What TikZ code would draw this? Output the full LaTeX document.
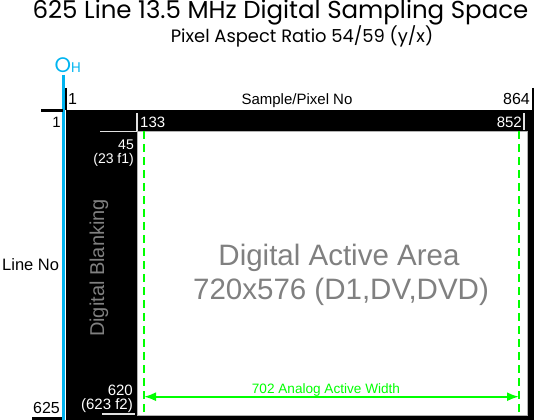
\documentclass[tikz,border=0pt]{standalone}
\usepackage{fontspec}
\setmainfont{Liberation Sans}
\newfontfamily\titlefont{Poppins}
\usetikzlibrary{arrows.meta,positioning}
\definecolor{ohcyan}{RGB}{0,180,240}
\definecolor{anagreen}{RGB}{0,255,0}
\definecolor{areagray}{RGB}{128,128,128}
\definecolor{tickgray}{RGB}{225,225,225}

\begin{document}
\begin{tikzpicture}[x=1pt,y=-1pt,
  lbl/.style={inner sep=0pt, font=\fontsize{15}{15}\selectfont},
  wlbl/.style={lbl, text=white},
  blk/.style={line width=2pt},
  wtick/.style={tickgray, line width=1.6pt},
  gdash/.style={anagreen, line width=2pt, dash pattern=on 8pt off 5pt}]
\useasboundingbox (0,0) rectangle (560,420);
% frame
\coordinate (ftl) at (66,110);
\coordinate (fbr) at (534,420);
\coordinate (atl) at (137,131);
\coordinate (abr) at (527,415);
\fill[black] (ftl) rectangle (fbr);
\fill[white] (atl) rectangle (abr);
\draw[gray!60, line width=0.6pt] (atl) rectangle (abr);
% titles
\node[inner sep=0pt, anchor=base] (title) at (280.5,18.5) {\titlefont\fontsize{24.5}{24.5}\selectfont 625 Line 13.5 MHz Digital Sampling Space};
\node[inner sep=0pt, anchor=base] (subtitle) at (302,43) {\titlefont\fontsize{17.9}{17.9}\selectfont Pixel Aspect Ratio 54/59 (y/x)};
% origin line
\coordinate (ohtop) at (63.5,75);
\coordinate (ohbot) at (63.5,420);
\draw[ohcyan, line width=3pt] (ohtop) -- (ohbot);
\node[inner sep=0pt, anchor=base west, text=ohcyan] (oh) at (54.5,73) {\titlefont\fontsize{21}{21}\selectfont O\fontsize{14}{14}\selectfont H};
% black ticks
\coordinate (t1a) at (66,88);
\coordinate (t1b) at (66,110);
\coordinate (l1a) at (41,110.5);
\coordinate (l1b) at (63,110.5);
\coordinate (t864a) at (532.5,88);
\coordinate (t864b) at (532.5,110);
\coordinate (l625a) at (32,418.5);
\coordinate (l625b) at (62,418.5);
\draw[blk] (t1a) -- (t1b);
\draw[blk] (l1a) -- (l1b);
\draw[blk] (t864a) -- (t864b);
\draw[line width=3pt] (l625a) -- (l625b);
\node[lbl, anchor=base west, font=\fontsize{16}{16}\selectfont] (n1) at (68,105) {1};
\node[lbl, anchor=base east] (m1) at (61,128) {1};
\node[lbl, anchor=base] (sample) at (297,104) {Sample/Pixel No};
\node[lbl, anchor=base east, font=\fontsize{16}{16}\selectfont] (n864) at (530,104) {864};
\node[lbl, anchor=base east, font=\fontsize{16}{16}\selectfont] (m625) at (60,413) {625};
\node[lbl, anchor=base west, font=\fontsize{16.5}{16.5}\selectfont] (lineno) at (2,270) {Line No};
% white ticks
\coordinate (t133a) at (137,113);
\coordinate (t133b) at (137,131);
\coordinate (t852a) at (524,113);
\coordinate (t852b) at (524,130);
\coordinate (l45a) at (100,131.5);
\coordinate (l45b) at (137,131.5);
\coordinate (l620a) at (102,414);
\coordinate (l620b) at (135,414);
\draw[wtick] (t133a) -- (t133b);
\draw[wtick] (t852a) -- (t852b);
\draw[wtick] (l45a) -- (l45b);
\draw[wtick] (l620a) -- (l620b);
\node[wlbl, anchor=base west] (n133) at (140,128) {133};
\node[wlbl, anchor=base east] (n852) at (522,128) {852};
\node[wlbl, anchor=base east, font=\fontsize{14}{14}\selectfont] (m45) at (134,149) {45};
\node[wlbl, anchor=base east, font=\fontsize{14}{14}\selectfont] (m23) at (134,163) {(23 f1)};
\node[wlbl, anchor=base east] (m620) at (133,395) {620};
\node[wlbl, anchor=base east] (m623) at (133,409.5) {(623 f2)};
% areas
\node[inner sep=0pt, rotate=90, text=areagray, font=\fontsize{20}{20}\selectfont] (blank) at (99,268) {Digital Blanking};
\node[inner sep=0pt, anchor=base, text=areagray, font=\fontsize{29.5}{29.5}\selectfont] (active) at (339,265) {Digital Active Area};
\node[inner sep=0pt, anchor=base, text=areagray, font=\fontsize{29.5}{29.5}\selectfont] (activesz) at (341,299) {720x576 (D1,DV,DVD)};
% analog active width
\coordinate (gla) at (144,131);
\coordinate (glb) at (144,415);
\coordinate (gra) at (519,131);
\coordinate (grb) at (519,415);
\draw[gdash] (gla) -- (glb);
\draw[gdash] (gra) -- (grb);
\coordinate (wl) at (144,396.7);
\coordinate (wr) at (519,396.7);
\draw[anagreen, line width=2pt, {Latex[length=12pt,width=9pt]}-{Latex[length=12pt,width=9pt]}] (wl) -- (wr);
\node[inner sep=0pt, anchor=base, text=anagreen, font=\fontsize{13.6}{13.6}\selectfont] (analog) at (326,393.5) {702 Analog Active Width};
\end{tikzpicture}
\end{document}
